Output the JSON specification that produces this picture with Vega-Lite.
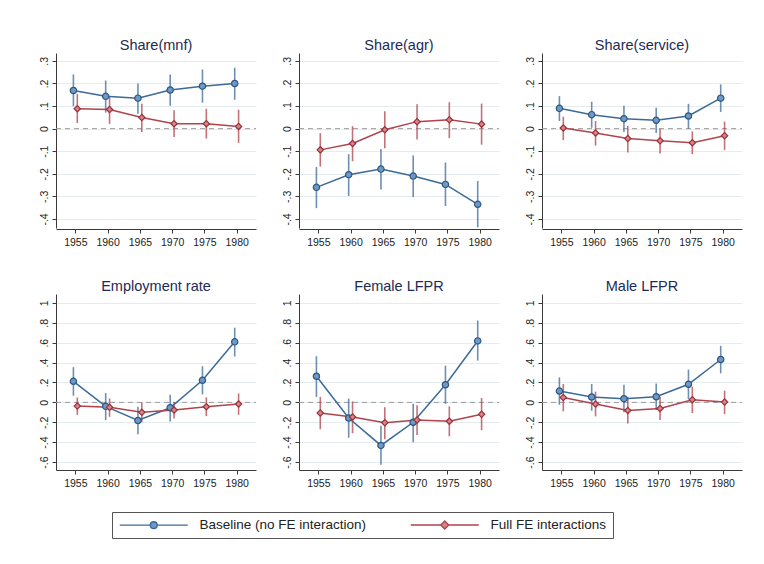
{
  "$schema": "https://vega.github.io/schema/vega-lite/v6.json",
  "background": "white",
  "padding": {"left": 39, "top": 37, "right": 5, "bottom": 5},
  "datasets": {
    "coef": [
      {"row": 1, "panel": "Share(mnf)", "series": "Baseline (no FE interaction)", "year": 1955, "est": 0.169, "lo": 0.099, "hi": 0.240},
      {"row": 1, "panel": "Share(mnf)", "series": "Baseline (no FE interaction)", "year": 1960, "est": 0.143, "lo": 0.071, "hi": 0.213},
      {"row": 1, "panel": "Share(mnf)", "series": "Baseline (no FE interaction)", "year": 1965, "est": 0.135, "lo": 0.066, "hi": 0.200},
      {"row": 1, "panel": "Share(mnf)", "series": "Baseline (no FE interaction)", "year": 1970, "est": 0.171, "lo": 0.101, "hi": 0.240},
      {"row": 1, "panel": "Share(mnf)", "series": "Baseline (no FE interaction)", "year": 1975, "est": 0.188, "lo": 0.115, "hi": 0.262},
      {"row": 1, "panel": "Share(mnf)", "series": "Baseline (no FE interaction)", "year": 1980, "est": 0.200, "lo": 0.128, "hi": 0.270},
      {"row": 1, "panel": "Share(mnf)", "series": "Full FE interactions", "year": 1955, "est": 0.088, "lo": 0.025, "hi": 0.154},
      {"row": 1, "panel": "Share(mnf)", "series": "Full FE interactions", "year": 1960, "est": 0.085, "lo": 0.021, "hi": 0.140},
      {"row": 1, "panel": "Share(mnf)", "series": "Full FE interactions", "year": 1965, "est": 0.049, "lo": -0.015, "hi": 0.110},
      {"row": 1, "panel": "Share(mnf)", "series": "Full FE interactions", "year": 1970, "est": 0.022, "lo": -0.037, "hi": 0.081},
      {"row": 1, "panel": "Share(mnf)", "series": "Full FE interactions", "year": 1975, "est": 0.022, "lo": -0.044, "hi": 0.088},
      {"row": 1, "panel": "Share(mnf)", "series": "Full FE interactions", "year": 1980, "est": 0.010, "lo": -0.063, "hi": 0.084},
      {"row": 1, "panel": "Share(agr)", "series": "Baseline (no FE interaction)", "year": 1955, "est": -0.260, "lo": -0.352, "hi": -0.170},
      {"row": 1, "panel": "Share(agr)", "series": "Baseline (no FE interaction)", "year": 1960, "est": -0.204, "lo": -0.298, "hi": -0.113},
      {"row": 1, "panel": "Share(agr)", "series": "Baseline (no FE interaction)", "year": 1965, "est": -0.179, "lo": -0.270, "hi": -0.090},
      {"row": 1, "panel": "Share(agr)", "series": "Baseline (no FE interaction)", "year": 1970, "est": -0.210, "lo": -0.303, "hi": -0.119},
      {"row": 1, "panel": "Share(agr)", "series": "Baseline (no FE interaction)", "year": 1975, "est": -0.247, "lo": -0.343, "hi": -0.150},
      {"row": 1, "panel": "Share(agr)", "series": "Baseline (no FE interaction)", "year": 1980, "est": -0.335, "lo": -0.437, "hi": -0.232},
      {"row": 1, "panel": "Share(agr)", "series": "Full FE interactions", "year": 1955, "est": -0.094, "lo": -0.168, "hi": -0.020},
      {"row": 1, "panel": "Share(agr)", "series": "Full FE interactions", "year": 1960, "est": -0.066, "lo": -0.144, "hi": 0.011},
      {"row": 1, "panel": "Share(agr)", "series": "Full FE interactions", "year": 1965, "est": -0.005, "lo": -0.087, "hi": 0.077},
      {"row": 1, "panel": "Share(agr)", "series": "Full FE interactions", "year": 1970, "est": 0.031, "lo": -0.048, "hi": 0.108},
      {"row": 1, "panel": "Share(agr)", "series": "Full FE interactions", "year": 1975, "est": 0.039, "lo": -0.042, "hi": 0.117},
      {"row": 1, "panel": "Share(agr)", "series": "Full FE interactions", "year": 1980, "est": 0.020, "lo": -0.071, "hi": 0.111},
      {"row": 1, "panel": "Share(service)", "series": "Baseline (no FE interaction)", "year": 1955, "est": 0.090, "lo": 0.034, "hi": 0.144},
      {"row": 1, "panel": "Share(service)", "series": "Baseline (no FE interaction)", "year": 1960, "est": 0.062, "lo": 0.004, "hi": 0.119},
      {"row": 1, "panel": "Share(service)", "series": "Baseline (no FE interaction)", "year": 1965, "est": 0.044, "lo": -0.015, "hi": 0.101},
      {"row": 1, "panel": "Share(service)", "series": "Baseline (no FE interaction)", "year": 1970, "est": 0.037, "lo": -0.019, "hi": 0.093},
      {"row": 1, "panel": "Share(service)", "series": "Baseline (no FE interaction)", "year": 1975, "est": 0.056, "lo": 0.000, "hi": 0.110},
      {"row": 1, "panel": "Share(service)", "series": "Baseline (no FE interaction)", "year": 1980, "est": 0.135, "lo": 0.074, "hi": 0.196},
      {"row": 1, "panel": "Share(service)", "series": "Full FE interactions", "year": 1955, "est": 0.003, "lo": -0.051, "hi": 0.053},
      {"row": 1, "panel": "Share(service)", "series": "Full FE interactions", "year": 1960, "est": -0.019, "lo": -0.075, "hi": 0.034},
      {"row": 1, "panel": "Share(service)", "series": "Full FE interactions", "year": 1965, "est": -0.044, "lo": -0.106, "hi": 0.012},
      {"row": 1, "panel": "Share(service)", "series": "Full FE interactions", "year": 1970, "est": -0.054, "lo": -0.110, "hi": 0.000},
      {"row": 1, "panel": "Share(service)", "series": "Full FE interactions", "year": 1975, "est": -0.062, "lo": -0.113, "hi": -0.012},
      {"row": 1, "panel": "Share(service)", "series": "Full FE interactions", "year": 1980, "est": -0.031, "lo": -0.094, "hi": 0.031},
      {"row": 2, "panel": "Employment rate", "series": "Baseline (no FE interaction)", "year": 1955, "est": 0.212, "lo": 0.067, "hi": 0.354},
      {"row": 2, "panel": "Employment rate", "series": "Baseline (no FE interaction)", "year": 1960, "est": -0.040, "lo": -0.178, "hi": 0.094},
      {"row": 2, "panel": "Employment rate", "series": "Baseline (no FE interaction)", "year": 1965, "est": -0.182, "lo": -0.320, "hi": -0.044},
      {"row": 2, "panel": "Employment rate", "series": "Baseline (no FE interaction)", "year": 1970, "est": -0.054, "lo": -0.192, "hi": 0.077},
      {"row": 2, "panel": "Employment rate", "series": "Baseline (no FE interaction)", "year": 1975, "est": 0.222, "lo": 0.081, "hi": 0.364},
      {"row": 2, "panel": "Employment rate", "series": "Baseline (no FE interaction)", "year": 1980, "est": 0.609, "lo": 0.461, "hi": 0.751},
      {"row": 2, "panel": "Employment rate", "series": "Full FE interactions", "year": 1955, "est": -0.037, "lo": -0.125, "hi": 0.050},
      {"row": 2, "panel": "Employment rate", "series": "Full FE interactions", "year": 1960, "est": -0.050, "lo": -0.145, "hi": 0.040},
      {"row": 2, "panel": "Employment rate", "series": "Full FE interactions", "year": 1965, "est": -0.100, "lo": -0.200, "hi": 0.000},
      {"row": 2, "panel": "Employment rate", "series": "Full FE interactions", "year": 1970, "est": -0.077, "lo": -0.162, "hi": 0.003},
      {"row": 2, "panel": "Employment rate", "series": "Full FE interactions", "year": 1975, "est": -0.044, "lo": -0.138, "hi": 0.050},
      {"row": 2, "panel": "Employment rate", "series": "Full FE interactions", "year": 1980, "est": -0.017, "lo": -0.125, "hi": 0.090},
      {"row": 2, "panel": "Female LFPR", "series": "Baseline (no FE interaction)", "year": 1955, "est": 0.263, "lo": 0.055, "hi": 0.464},
      {"row": 2, "panel": "Female LFPR", "series": "Baseline (no FE interaction)", "year": 1960, "est": -0.157, "lo": -0.355, "hi": 0.038},
      {"row": 2, "panel": "Female LFPR", "series": "Baseline (no FE interaction)", "year": 1965, "est": -0.433, "lo": -0.628, "hi": -0.235},
      {"row": 2, "panel": "Female LFPR", "series": "Baseline (no FE interaction)", "year": 1970, "est": -0.200, "lo": -0.400, "hi": -0.014},
      {"row": 2, "panel": "Female LFPR", "series": "Baseline (no FE interaction)", "year": 1975, "est": 0.177, "lo": -0.014, "hi": 0.369},
      {"row": 2, "panel": "Female LFPR", "series": "Baseline (no FE interaction)", "year": 1980, "est": 0.618, "lo": 0.420, "hi": 0.823},
      {"row": 2, "panel": "Female LFPR", "series": "Full FE interactions", "year": 1955, "est": -0.106, "lo": -0.270, "hi": 0.055},
      {"row": 2, "panel": "Female LFPR", "series": "Full FE interactions", "year": 1960, "est": -0.147, "lo": -0.310, "hi": 0.010},
      {"row": 2, "panel": "Female LFPR", "series": "Full FE interactions", "year": 1965, "est": -0.205, "lo": -0.372, "hi": -0.048},
      {"row": 2, "panel": "Female LFPR", "series": "Full FE interactions", "year": 1970, "est": -0.177, "lo": -0.328, "hi": -0.030},
      {"row": 2, "panel": "Female LFPR", "series": "Full FE interactions", "year": 1975, "est": -0.190, "lo": -0.341, "hi": -0.040},
      {"row": 2, "panel": "Female LFPR", "series": "Full FE interactions", "year": 1980, "est": -0.120, "lo": -0.280, "hi": 0.044},
      {"row": 2, "panel": "Male LFPR", "series": "Baseline (no FE interaction)", "year": 1955, "est": 0.114, "lo": -0.024, "hi": 0.252},
      {"row": 2, "panel": "Male LFPR", "series": "Baseline (no FE interaction)", "year": 1960, "est": 0.054, "lo": -0.084, "hi": 0.185},
      {"row": 2, "panel": "Male LFPR", "series": "Baseline (no FE interaction)", "year": 1965, "est": 0.037, "lo": -0.100, "hi": 0.178},
      {"row": 2, "panel": "Male LFPR", "series": "Baseline (no FE interaction)", "year": 1970, "est": 0.057, "lo": -0.077, "hi": 0.189},
      {"row": 2, "panel": "Male LFPR", "series": "Baseline (no FE interaction)", "year": 1975, "est": 0.182, "lo": 0.034, "hi": 0.330},
      {"row": 2, "panel": "Male LFPR", "series": "Baseline (no FE interaction)", "year": 1980, "est": 0.431, "lo": 0.293, "hi": 0.569},
      {"row": 2, "panel": "Male LFPR", "series": "Full FE interactions", "year": 1955, "est": 0.050, "lo": -0.090, "hi": 0.185},
      {"row": 2, "panel": "Male LFPR", "series": "Full FE interactions", "year": 1960, "est": -0.017, "lo": -0.141, "hi": 0.108},
      {"row": 2, "panel": "Male LFPR", "series": "Full FE interactions", "year": 1965, "est": -0.081, "lo": -0.212, "hi": 0.057},
      {"row": 2, "panel": "Male LFPR", "series": "Full FE interactions", "year": 1970, "est": -0.061, "lo": -0.178, "hi": 0.057},
      {"row": 2, "panel": "Male LFPR", "series": "Full FE interactions", "year": 1975, "est": 0.027, "lo": -0.108, "hi": 0.158},
      {"row": 2, "panel": "Male LFPR", "series": "Full FE interactions", "year": 1980, "est": 0.003, "lo": -0.118, "hi": 0.118}
    ]
  },
  "vconcat": [
    {
      "data": {"name": "coef"},
      "transform": [
        {"filter": "datum.row == 1"},
        {"calculate": "datum.year + (datum.series == 'Baseline (no FE interaction)' ? -0.3 : 0.3)", "as": "xpos"}
      ],
      "facet": {
        "column": {
          "field": "panel", "type": "nominal",
          "sort": ["Share(mnf)", "Share(agr)", "Share(service)"],
          "header": {"title": null, "labelFontSize": 14.5, "labelColor": "#1c2b55", "labelFont": "Liberation Sans", "labelPadding": 0}
        }
      },
      "spacing": 25,
      "resolve": {"axis": {"y": "independent"}},
      "spec": {
        "width": 200,
        "height": 175,
        "encoding": {
          "x": {"field": "xpos", "type": "quantitative", "scale": {"domain": [1952, 1983], "nice": false, "zero": false},
                "axis": {"values": [1955, 1960, 1965, 1970, 1975, 1980], "format": "d", "title": null, "grid": false}}
        },
        "layer": [
          {
            "transform": [{"filter": "datum.year == 1955 && datum.series == 'Baseline (no FE interaction)'"}],
            "mark": {"type": "rule", "strokeDash": [5, 4], "color": "#9a9a9a", "strokeWidth": 1},
            "encoding": {"x": {"value": 0}, "x2": {"value": 200}, "y": {"datum": 0}}
          },
          {
            "mark": {"type": "rule", "strokeWidth": 1.6, "opacity": 0.75},
            "encoding": {
              "y": {"field": "lo", "type": "quantitative", "scale": {"domain": [-0.44, 0.335], "nice": false, "zero": false},
                    "axis": {"values": [-0.4, -0.3, -0.2, -0.1, 0, 0.1, 0.2, 0.3], "title": null, "labelOverlap": false, "labelBound": false, "tickCount": 8,
                             "labelExpr": "datum.value == 0 ? '0' : (datum.value < 0 ? '-' : '') + substring(format(abs(datum.value), '.1f'), 1)"}},
              "y2": {"field": "hi"},
              "color": {"field": "series", "type": "nominal"}
            }
          },
          {
            "mark": {"type": "line", "strokeWidth": 1.5},
            "encoding": {
              "y": {"field": "est", "type": "quantitative"},
              "color": {"field": "series", "type": "nominal",
                "legend": {
                  "orient": "none", "legendX": 56, "legendY": 459, "columns": 2,
                  "labelExpr": "datum.label == 'Full FE interactions' ? datum.label + '\u00a0\u00a0\u00a0\u00a0\u00a0\u00a0\u00a0\u00a0\u00a0' : datum.label",
                  "encode": {
                    "symbols": {
                      "update": {
                        "shape": {"signal": "datum.value == 'Baseline (no FE interaction)' ? 'M-1,0H5.12M6.48,0H12.6M6.48,0A0.68,0.68,0,1,1,5.12,0A0.68,0.68,0,1,1,6.48,0Z' : 'M-1,0H5M6.6,0H12.6M5.8,-0.8L6.6,0L5.8,0.8L5,0Z'"},
                        "fill": {"signal": "datum.value == 'Baseline (no FE interaction)' ? '#6f98c2' : '#d4858b'"},
                        "fillOpacity": {"value": 1},
                        "strokeWidth": {"value": 1.4}
                      }
                    }
                  }
                }
              }
            }
          },
          {
            "mark": {"type": "point", "filled": true, "size": 40, "strokeWidth": 1.2, "opacity": 1},
            "encoding": {
              "y": {"field": "est", "type": "quantitative"},
              "shape": {"field": "series", "type": "nominal", "scale": {"range": ["circle", "diamond"]}, "legend": null},
              "fill": {"field": "series", "type": "nominal", "scale": {"range": ["#6f98c2", "#d4858b"]}, "legend": null},
              "stroke": {"field": "series", "type": "nominal", "scale": {"range": ["#2c5783", "#9c2f37"]}, "legend": null}
            }
          }
        ]
      }
    },
    {
      "data": {"name": "coef"},
      "transform": [
        {"filter": "datum.row == 2"},
        {"calculate": "datum.year + (datum.series == 'Baseline (no FE interaction)' ? -0.3 : 0.3)", "as": "xpos"}
      ],
      "facet": {
        "column": {
          "field": "panel", "type": "nominal",
          "sort": ["Employment rate", "Female LFPR", "Male LFPR"],
          "header": {"title": null, "labelFontSize": 14.5, "labelColor": "#1c2b55", "labelFont": "Liberation Sans", "labelPadding": 0}
        }
      },
      "spacing": 25,
      "resolve": {"axis": {"y": "independent"}},
      "spec": {
        "width": 200,
        "height": 176,
        "encoding": {
          "x": {"field": "xpos", "type": "quantitative", "scale": {"domain": [1952, 1983], "nice": false, "zero": false},
                "axis": {"values": [1955, 1960, 1965, 1970, 1975, 1980], "format": "d", "title": null, "grid": false}}
        },
        "layer": [
          {
            "transform": [{"filter": "datum.year == 1955 && datum.series == 'Baseline (no FE interaction)'"}],
            "mark": {"type": "rule", "strokeDash": [5, 4], "color": "#9a9a9a", "strokeWidth": 1},
            "encoding": {"x": {"value": 0}, "x2": {"value": 200}, "y": {"datum": 0}}
          },
          {
            "mark": {"type": "rule", "strokeWidth": 1.6, "opacity": 0.75},
            "encoding": {
              "y": {"field": "lo", "type": "quantitative", "scale": {"domain": [-0.68, 1.09], "nice": false, "zero": false},
                    "axis": {"values": [-0.6, -0.4, -0.2, 0, 0.2, 0.4, 0.6, 0.8, 1], "title": null, "labelOverlap": false, "labelBound": false, "tickCount": 9,
                             "labelExpr": "datum.value == 0 ? '0' : abs(datum.value) >= 1 ? format(datum.value, 'd') : (datum.value < 0 ? '-' : '') + substring(format(abs(datum.value), '.1f'), 1)"}},
              "y2": {"field": "hi"},
              "color": {"field": "series", "type": "nominal"}
            }
          },
          {
            "mark": {"type": "line", "strokeWidth": 1.5},
            "encoding": {
              "y": {"field": "est", "type": "quantitative"},
              "color": {"field": "series", "type": "nominal"}
            }
          },
          {
            "mark": {"type": "point", "filled": true, "size": 40, "strokeWidth": 1.2, "opacity": 1},
            "encoding": {
              "y": {"field": "est", "type": "quantitative"},
              "shape": {"field": "series", "type": "nominal", "scale": {"range": ["circle", "diamond"]}, "legend": null},
              "fill": {"field": "series", "type": "nominal", "scale": {"range": ["#6f98c2", "#d4858b"]}, "legend": null},
              "stroke": {"field": "series", "type": "nominal", "scale": {"range": ["#2c5783", "#9c2f37"]}, "legend": null}
            }
          }
        ]
      }
    }
  ],
  "spacing": 30,
  "config": {
    "font": "Liberation Sans",
    "view": {"stroke": null},
    "range": {"category": ["#3b6a99", "#b0434b"]},
    "axis": {
      "domainColor": "#3a3a3a", "tickColor": "#3a3a3a", "labelColor": "#222222",
      "labelFontSize": 10.5, "tickSize": 4, "labelFont": "Liberation Sans", "domainWidth": 1, "labelOverlap": false
    },
    "axisY": {"grid": true, "gridColor": "#e4ecf0", "gridWidth": 1, "labelAngle": -90, "labelPadding": 3},
    "axisX": {"labelAngle": 0, "labelPadding": 4},
    "legend": {
      "direction": "horizontal", "title": null,
      "strokeColor": "#555555", "padding": 6,
      "labelFontSize": 13.5, "labelColor": "#222222", "labelOffset": 68, "labelLimit": 300,
      "columnPadding": 40, "symbolSize": 100, "symbolStrokeWidth": 1.4, "gridAlign": "all"
    }
  }
}
